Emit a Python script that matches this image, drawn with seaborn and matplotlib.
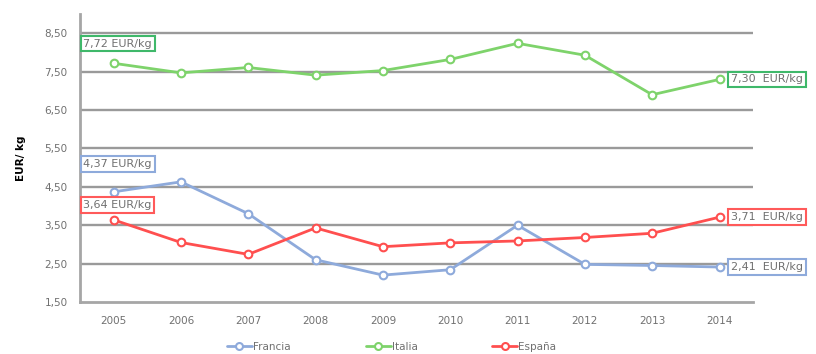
import matplotlib
matplotlib.use("Agg")
import matplotlib.pyplot as plt
import seaborn as sns
import pandas as pd
import numpy as np

years = ["2005", "2006", "2007", "2008", "2009", "2010", "2011", "2012", "2013", "2014"]
francia = [4.37, 4.63, 3.80, 2.60, 2.20, 2.34, 3.50, 2.48, 2.45, 2.41]
italia = [7.72, 7.47, 7.61, 7.41, 7.53, 7.82, 8.24, 7.93, 6.90, 7.30]
espana = [3.64, 3.05, 2.74, 3.43, 2.94, 3.04, 3.09, 3.18, 3.29, 3.71]
series_names = ["Francia", "Italia", "España"]
yticks = [1.5, 2.5, 3.5, 4.5, 5.5, 6.5, 7.5, 8.5]
ytick_labels = ["1,50", "2,50", "3,50", "4,50", "5,50", "6,50", "7,50", "8,50"]
first_labels = ["4,37 EUR/kg", "7,72 EUR/kg", "3,64 EUR/kg"]
last_labels = ["2,41  EUR/kg", "7,30  EUR/kg", "3,71  EUR/kg"]

line_colors = {"Francia": "#8eaadb", "Italia": "#7ed36b", "España": "#ff4f4f"}
box_colors = {"Francia": "#8eaadb", "Italia": "#3fb86a", "España": "#ff5a5a"}

rows = []
for name, vals in zip(series_names, [francia, italia, espana]):
    for i, (y, v) in enumerate(zip(years, vals)):
        rows.append({"idx": i, "year": y, "value": v, "pais": name})
df = pd.DataFrame(rows)

sns.set_style("white")
plt.rcParams["font.family"] = ["DejaVu Sans"]

fig = plt.figure(figsize=(8.16, 3.54), dpi=100)
ax = fig.add_axes([0.098, 0.147, 0.825, 0.813])

sns.lineplot(data=df, x="idx", y="value", hue="pais", palette=line_colors,
             hue_order=series_names, marker="o", markersize=5.5,
             markerfacecolor="white", markeredgewidth=1.5, linewidth=2.0,
             ax=ax, zorder=3)
for l in ax.lines:
    l.set_markeredgecolor(l.get_color())

ax.set_xlim(-0.5, 9.5)
ax.set_ylim(1.5, 9.0)
ax.set_yticks(yticks)
ax.set_yticklabels(ytick_labels)
ax.set_xticks(np.arange(-0.5, 10, 1.0))
ax.set_xticklabels([])
ax.set_xticks(np.arange(0, 10), minor=True)
ax.set_xticklabels(years, minor=True)
ax.tick_params(axis="x", which="major", length=5, width=1.2, color="#a6a6a6", direction="out")
ax.tick_params(axis="x", which="minor", length=0, pad=10, labelsize=7.5, labelcolor="#707070")
ax.tick_params(axis="y", length=5, width=1.2, color="#a6a6a6", labelsize=7.5, labelcolor="#707070", pad=4)

for g in yticks[1:]:
    ax.axhline(g, color="#9a9a9a", linewidth=1.7, zorder=1)

for s in ["top", "right"]:
    ax.spines[s].set_visible(False)
for s in ["left", "bottom"]:
    ax.spines[s].set_color("#a6a6a6")
    ax.spines[s].set_linewidth(2.0)

ax.set_xlabel("")
ax.set_ylabel("EUR/ kg", fontsize=7.5, fontweight="bold", color="black", labelpad=13)

# annotations
first_y = {"Francia": 5.1, "Italia": 8.23, "España": 4.03}
for name, lab in zip(series_names, first_labels):
    ax.text(-0.45, first_y[name], lab, fontsize=8, color="#707070", ha="left", va="center",
            bbox=dict(boxstyle="square,pad=0.25", fc="white", ec=box_colors[name], lw=1.5), zorder=5)
last_y = {"Francia": 2.41, "Italia": 7.30, "España": 3.71}
for name, lab in zip(series_names, last_labels):
    ax.text(9.17, last_y[name], lab, fontsize=8, color="#707070", ha="left", va="center",
            bbox=dict(boxstyle="square,pad=0.25", fc="white", ec=box_colors[name], lw=1.5),
            zorder=5, clip_on=False)

handles, labels = ax.get_legend_handles_labels()
ax.get_legend().remove()
leg = fig.legend(handles=handles, labels=labels, loc="center", bbox_to_anchor=(0.48, 1 - 347 / 354),
                 ncol=3, frameon=False, fontsize=7.5, labelcolor="#707070", columnspacing=7.2,
                 handlelength=2.4, handletextpad=0.1, borderpad=0.1)
for l in leg.get_lines():
    l.set_markersize(5)
    l.set_linewidth(2.0)

fig.savefig("out.png", dpi=100)
